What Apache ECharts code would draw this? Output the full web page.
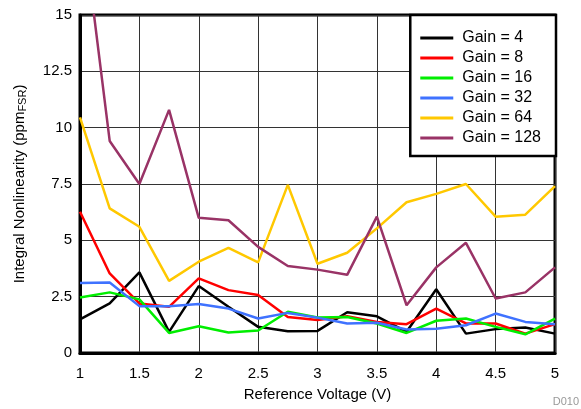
<!DOCTYPE html>
<html><head><meta charset="utf-8">
<script src="https://cdn.jsdelivr.net/npm/echarts@6/dist/echarts.min.js"></script>
<style>html,body{margin:0;padding:0;background:#fff}#c{width:581px;height:409px}</style>
</head><body><div id="c"></div>
<script>
const voltages = [1,1.25,1.5,1.75,2,2.25,2.5,2.75,3,3.25,3.5,3.75,4,4.25,4.5,4.75,5];
const gain4   = [1.49,2.2,3.58,0.94,2.97,2.05,1.16,0.97,0.98,1.81,1.63,0.94,2.83,0.86,1.06,1.13,0.86];
const gain8   = [6.27,3.53,2.2,2.05,3.31,2.79,2.57,1.6,1.46,1.63,1.38,1.28,1.97,1.31,1.31,0.86,1.28];
const gain16  = [2.46,2.69,2.38,0.89,1.19,0.91,1.0,1.83,1.58,1.6,1.31,0.89,1.43,1.53,1.16,0.83,1.53];
const gain32  = [3.11,3.13,2.08,2.08,2.17,1.97,1.53,1.78,1.57,1.31,1.34,1.04,1.08,1.23,1.75,1.38,1.28];
const gain64  = [10.46,6.42,5.6,3.2,4.05,4.67,4.02,7.46,3.96,4.45,5.53,6.69,7.06,7.5,6.05,6.14,7.41];
const gain128 = [20,9.41,7.5,10.79,6.0,5.89,4.71,3.86,3.7,3.47,6.05,2.12,3.8,4.89,2.42,2.69,3.8];
const seriesNames = ['Gain = 4','Gain = 8','Gain = 16','Gain = 32','Gain = 64','Gain = 128'];
const seriesColors = ['#000000','#ff0000','#00ee00','#3f72ff','#ffc800','#993366'];
const allData = [gain4,gain8,gain16,gain32,gain64,gain128];
const yTicks = {min:0,max:15,interval:2.5};
const xTicks = {min:1,max:5,interval:0.5};

const font = 'Liberation Sans, Arial, sans-serif';
const chart = echarts.init(document.getElementById('c'));
chart.setOption({
  animation:false,
  textStyle:{fontFamily:font,color:'#000'},
  grid:{left:80,right:26,top:15,bottom:56,show:true,borderColor:'#000',borderWidth:3,backgroundColor:'transparent'},
  legend:{
    orient:'vertical',right:25,top:15,
    backgroundColor:'#fff',borderColor:'#000',borderWidth:2.5,
    padding:[14,15,9,10],itemWidth:33,itemHeight:3,itemGap:2,icon:'rect',
    textStyle:{fontSize:16,lineHeight:18,color:'#000',fontFamily:font,padding:[0,0,0,4]},
    data:seriesNames
  },
  xAxis:{
    type:'value',min:xTicks.min,max:xTicks.max,interval:xTicks.interval,
    name:'Reference Voltage (V)',nameLocation:'middle',nameGap:34,
    nameTextStyle:{fontSize:15,color:'#000',fontFamily:font},
    axisLine:{show:true,lineStyle:{color:'#000',width:3}},
    axisTick:{show:false},
    axisLabel:{fontSize:15,color:'#000',margin:13,fontFamily:font},
    splitLine:{show:true,lineStyle:{color:'#333',width:1}}
  },
  yAxis:{
    type:'value',min:yTicks.min,max:yTicks.max,interval:yTicks.interval,
    name:'Integral Nonlinearity (ppm{sub|FSR})',nameLocation:'middle',nameGap:52,
    nameTextStyle:{fontSize:15,color:'#000',fontFamily:font,
      rich:{sub:{fontSize:11,verticalAlign:'bottom',padding:[6,0,0,0],fontFamily:font,color:'#000'}}},
    axisLine:{show:true,lineStyle:{color:'#000',width:3}},
    axisTick:{show:false},
    axisLabel:{fontSize:15,color:'#000',margin:8,fontFamily:font},
    splitLine:{show:true,lineStyle:{color:'#333',width:1}}
  },
  graphic:[{type:'text',right:2,bottom:2,style:{text:'D010',fill:'#999',fontSize:11,fontFamily:font}}],
  series: allData.map((d,i)=>({
    name:seriesNames[i],type:'line',symbol:'none',clip:true,
    data:voltages.map((v,j)=>[v,d[j]]),
    lineStyle:{color:seriesColors[i],width:2.5},
    itemStyle:{color:seriesColors[i]},
    z:2+i
  }))
});
</script></body></html>
